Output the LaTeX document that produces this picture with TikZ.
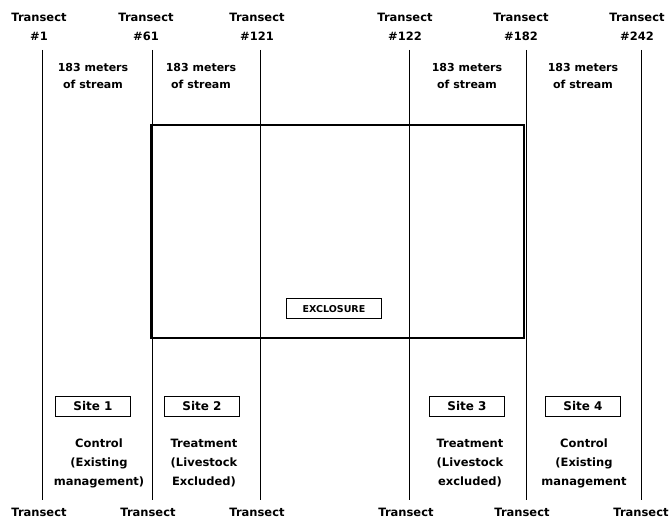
\documentclass[tikz,border=0pt]{standalone}
\usepackage{fontspec}
\setmainfont{DejaVu Sans}
\begin{document}
\begin{tikzpicture}[x=1pt,y=-1pt,
  lbl/.style={font=\bfseries\fontsize{11.5}{19}\selectfont, align=center, inner sep=0pt},
  streamlbl/.style={font=\bfseries\fontsize{11}{17}\selectfont, align=center, inner sep=0pt},
  sitebox/.style={draw, line width=1pt, minimum width=75pt, minimum height=20pt, inner sep=0pt, font=\bfseries\fontsize{12}{12}\selectfont},
  exbox/.style={draw, line width=1pt, minimum width=95pt, minimum height=20pt, inner sep=0pt, font=\bfseries\fontsize{9.5}{11}\selectfont},
  tline/.style={line width=0.9pt},
  encl/.style={line width=2pt}]
\useasboundingbox (0,0) rectangle (672,521);
% transect line end points
\foreach \n/\x in {1/42,2/152,3/260,4/409,5/526,6/641}{
  \coordinate (t\n) at (\x,50);
  \coordinate (b\n) at (\x,500);
}
\foreach \n in {1,...,6}{ \draw[tline] (t\n) -- (b\n); }
% exclosure
\coordinate (exnw) at (151,125);
\coordinate (exse) at (524,338);
\draw[encl] (exnw) rectangle (exse);
\node[exbox] (ex) at (334,309) {EXCLOSURE};
% top labels
\node[lbl] (top1) at (39,27) {Transect\\\#1};
\node[lbl] (top2) at (146,27) {Transect\\\#61};
\node[lbl] (top3) at (257,27) {Transect\\\#121};
\node[lbl] (top4) at (405,27) {Transect\\\#122};
\node[lbl] (top5) at (521,27) {Transect\\\#182};
\node[lbl] (top6) at (637,27) {Transect\\\#242};
% stream labels
\node[streamlbl] (s1) at (93,76) {183 meters\\of stream};
\node[streamlbl] (s2) at (201,76) {183 meters\\of stream};
\node[streamlbl] (s3) at (467,76) {183 meters\\of stream};
\node[streamlbl] (s4) at (583,76) {183 meters\\of stream};
% sites
\node[sitebox] (site1) at (93,406) {Site 1};
\node[sitebox] (site2) at (202,406) {Site 2};
\node[sitebox] (site3) at (467,406) {Site 3};
\node[sitebox] (site4) at (583,406) {Site 4};
% descriptions
\node[lbl] (d1) at (99,463) {Control\\(Existing\\management)};
\node[lbl] (d2) at (204,463) {Treatment\\(Livestock\\Excluded)};
\node[lbl] (d3) at (470,463) {Treatment\\(Livestock\\excluded)};
\node[lbl] (d4) at (584,463) {Control\\(Existing\\management};
% bottom labels
\node[lbl] (bot1) at (39,512) {Transect};
\node[lbl] (bot2) at (148,512) {Transect};
\node[lbl] (bot3) at (257,512) {Transect};
\node[lbl] (bot4) at (406,512) {Transect};
\node[lbl] (bot5) at (522,512) {Transect};
\node[lbl] (bot6) at (641,512) {Transect};
\end{tikzpicture}
\end{document}
